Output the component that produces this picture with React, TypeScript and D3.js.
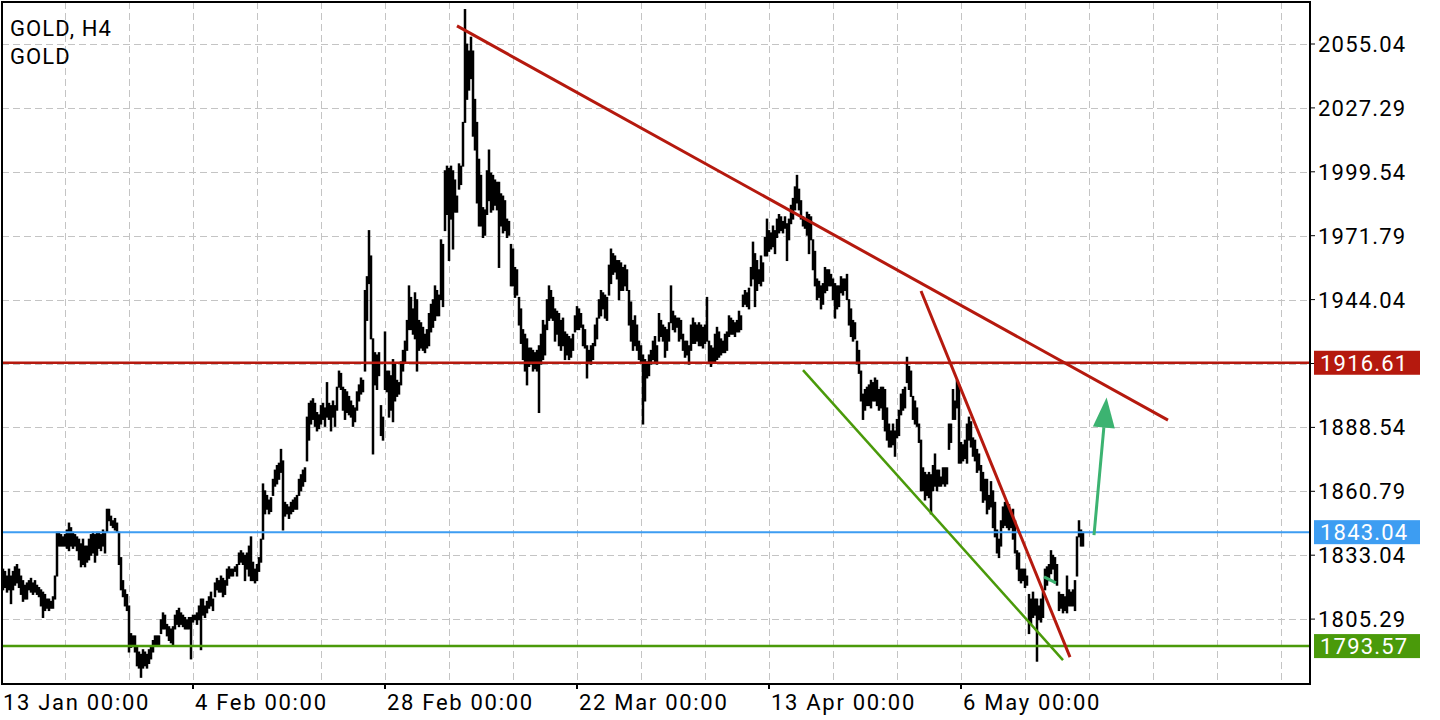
import React from 'react';
import * as d3 from 'd3';

const titleLines = ['GOLD, H4', 'GOLD'];

const highs = [
  1827,1827,1826,1824,1827,1824,1826,1828,1829,1827,
  1824,1822,1820,1821,1822,1823,1821,1822,1820,1819,
  1818,1817,1816,1814,1814,1813,1815,1824,1843,1843,
  1842,1841,1842,1844,1847,1845,1843,1842,1841,1840,
  1838,1840,1837,1837,1840,1842,1843,1842,1843,1843,
  1842,1844,1843,1853,1853,1850,1848,1849,1847,1843,
  1832,1822,1818,1816,1811,1799,1798,1798,1793,1791,
  1790,1792,1791,1790,1792,1793,1796,1798,1798,1798,
  1805,1808,1807,1803,1802,1801,1802,1807,1809,1810,
  1808,1807,1806,1805,1806,1806,1807,1807,1808,1811,
  1814,1814,1811,1813,1815,1817,1814,1821,1823,1822,
  1824,1823,1822,1827,1828,1827,1827,1828,1829,1834,
  1835,1834,1833,1834,1837,1841,1830,1827,1829,1832,
  1840,1864,1861,1859,1857,1858,1866,1870,1872,1873,
  1879,1874,1856,1855,1854,1856,1857,1858,1859,1866,
  1868,1870,1871,1893,1899,1900,1901,1899,1895,1894,
  1898,1899,1897,1908,1899,1898,1900,1898,1906,1913,
  1912,1906,1905,1904,1902,1900,1898,1897,1904,1907,
  1910,1909,1948,1954,1974,1963,1927,1921,1920,1921,
  1898,1893,1930,1913,1913,1911,1918,1916,1909,1908,
  1917,1922,1926,1935,1950,1945,1940,1947,1944,1935,
  1934,1932,1929,1931,1938,1942,1944,1950,1948,1946,
  1970,1968,2000,2002,2001,2002,2000,1996,1989,2003,
  2002,2021,2070,2055,2052,2058,2052,2031,2021,2005,
  1998,1984,1983,2000,2009,1999,1998,1996,1995,1995,
  1990,1989,1987,1979,1978,1968,1966,1958,1957,1945,
  1940,1931,1929,1927,1923,1923,1922,1921,1922,1924,
  1929,1935,1933,1944,1950,1948,1945,1940,1939,1938,
  1935,1936,1930,1929,1928,1927,1929,1937,1941,1940,
  1938,1933,1931,1924,1922,1924,1925,1933,1936,1944,
  1948,1947,1946,1945,1959,1966,1964,1963,1961,1961,
  1960,1958,1959,1957,1948,1943,1935,1937,1933,1926,
  1924,1920,1918,1917,1920,1922,1926,1928,1924,1938,
  1935,1933,1932,1931,1934,1950,1939,1937,1936,1936,
  1935,1929,1926,1926,1924,1933,1936,1934,1933,1934,
  1933,1932,1933,1945,1926,1924,1923,1929,1932,1930,
  1927,1926,1929,1930,1937,1936,1935,1934,1935,1939,
  1937,1946,1948,1947,1949,1958,1969,1964,1961,1957,
  1963,1960,1971,1979,1974,1973,1976,1974,1979,1981,
  1980,1978,1980,1977,1979,1985,1988,1993,1998,1992,
  1987,1980,1979,1982,1981,1980,1970,1965,1953,1952,
  1950,1951,1958,1957,1957,1955,1953,1951,1950,1950,
  1954,1953,1953,1955,1944,1940,1935,1934,1926,1922,
  1913,1903,1905,1906,1907,1909,1908,1910,1909,1905,
  1906,1906,1905,1897,1890,1887,1890,1887,1892,1896,
  1903,1905,1906,1919,1915,1913,1902,1900,1897,1890,
  1883,1871,1869,1868,1869,1868,1872,1877,1870,1870,
  1867,1871,1871,1871,1890,1890,1905,1900,1909,1907,
  1882,1881,1883,1890,1893,1891,1884,1883,1879,1877,
  1872,1869,1866,1866,1859,1865,1861,1856,1844,1840,
  1848,1854,1856,1855,1855,1851,1853,1848,1835,1834,
  1827,1827,1827,1824,1816,1814,1817,1814,1814,1811,
  1814,1817,1827,1828,1829,1835,1833,1832,1829,1817,
  1816,1816,1815,1824,1818,1817,1818,1822,1841,1848,
  1844,1843,
];

const lows = [
  1820,1818,1819,1817,1818,1812,1818,1820,1821,1819,
  1816,1813,1814,1814,1818,1817,1816,1817,1816,1815,
  1811,1806,1809,1810,1809,1810,1810,1814,1824,1837,
  1837,1837,1837,1836,1835,1837,1836,1837,1835,1831,
  1828,1829,1828,1830,1831,1833,1834,1830,1833,1836,
  1835,1837,1834,1843,1848,1846,1845,1844,1843,1829,
  1818,1815,1811,1809,1791,1793,1794,1791,1785,1784,
  1780,1784,1785,1784,1786,1788,1791,1794,1794,1794,
  1799,1801,1801,1798,1796,1795,1794,1801,1803,1802,
  1803,1802,1801,1801,1801,1788,1804,1805,1803,1805,
  1792,1807,1806,1808,1810,1811,1809,1815,1818,1817,
  1817,1815,1816,1820,1823,1824,1824,1826,1824,1829,
  1830,1829,1822,1827,1824,1822,1822,1821,1822,1826,
  1830,1840,1851,1853,1851,1852,1859,1863,1864,1866,
  1869,1844,1850,1851,1849,1851,1852,1853,1853,1859,
  1861,1863,1865,1874,1883,1890,1892,1889,1887,1888,
  1890,1892,1889,1893,1892,1887,1893,1889,1896,1906,
  1905,1896,1892,1895,1894,1893,1889,1891,1896,1900,
  1903,1904,1913,1935,1951,1927,1877,1907,1905,1911,
  1885,1883,1905,1904,1893,1896,1891,1900,1902,1903,
  1907,1913,1917,1922,1931,1931,1929,1927,1913,1922,
  1923,1922,1921,1923,1924,1930,1932,1935,1937,1937,
  1944,1941,1974,1981,1961,1979,1966,1982,1982,1992,
  1994,2002,2021,2031,2035,2040,2015,2009,1986,1976,
  1976,1971,1972,1981,1987,1982,1983,1985,1983,1958,
  1976,1973,1974,1971,1972,1950,1950,1945,1946,1933,
  1925,1918,1913,1907,1915,1916,1913,1914,1913,1895,
  1916,1918,1920,1931,1935,1936,1935,1926,1929,1924,
  1922,1924,1918,1920,1918,1919,1922,1930,1931,1931,
  1932,1924,1923,1910,1917,1916,1918,1924,1927,1936,
  1937,1940,1936,1935,1946,1951,1955,1956,1953,1944,
  1948,1948,1950,1948,1933,1926,1922,1924,1922,1918,
  1917,1890,1900,1910,1911,1916,1918,1917,1916,1926,
  1928,1926,1919,1922,1926,1934,1931,1930,1932,1926,
  1927,1922,1919,1920,1916,1922,1925,1925,1926,1924,
  1924,1923,1925,1926,1917,1915,1917,1917,1918,1919,
  1920,1921,1921,1922,1928,1929,1929,1928,1930,1930,
  1931,1941,1942,1941,1940,1950,1953,1941,1948,1951,
  1950,1952,1963,1963,1965,1966,1967,1964,1971,1973,
  1974,1973,1975,1961,1970,1977,1979,1983,1986,1983,
  1979,1976,1975,1972,1964,1970,1957,1950,1944,1945,
  1940,1942,1947,1948,1950,1950,1944,1936,1940,1941,
  1947,1946,1948,1944,1933,1928,1926,1927,1916,1912,
  1900,1892,1896,1898,1898,1897,1900,1900,1898,1896,
  1897,1892,1887,1883,1880,1880,1881,1876,1884,1885,
  1894,1896,1897,1908,1905,1902,1892,1890,1889,1882,
  1861,1861,1857,1859,1858,1851,1861,1863,1861,1863,
  1863,1864,1863,1864,1879,1882,1892,1892,1897,1873,
  1873,1874,1875,1873,1883,1880,1876,1874,1869,1870,
  1861,1856,1857,1851,1853,1854,1845,1841,1834,1832,
  1837,1845,1846,1845,1844,1845,1840,1834,1827,1822,
  1821,1822,1819,1820,1799,1803,1806,1807,1787,1805,
  1804,1806,1818,1820,1822,1825,1827,1821,1820,1809,
  1810,1808,1809,1808,1811,1811,1811,1809,1824,1841,
  1837,1837,
];

const yTickValues = [2055.04, 2027.29, 1999.54, 1971.79, 1944.04, 1916.29, 1888.54, 1860.79, 1833.04, 1805.29];
const yTickLabels = ['2055.04', '2027.29', '1999.54', '1971.79', '1944.04', '', '1888.54', '1860.79', '1833.04', '1805.29'];

const dateLabels = ['13 Jan 00:00', '4 Feb 00:00', '28 Feb 00:00', '22 Mar 00:00', '13 Apr 00:00', '6 May 00:00'];
const dateBars = [0, 96, 192, 288, 384, 480];

const levelValues = [1916.61, 1843.04, 1793.57];
const levelLabels = ['1916.61', '1843.04', '1793.57'];

// trendlines: [barIndex, price]
const resistanceLine = [[228, 2062.9], [583.5, 1891.7]];
const steepLine = [[460, 1947.8], [534.5, 1788.8]];
const supportLine = [[401, 1913.4], [531, 1787.5]];
const smallMark = [[521.5, 1823.6], [527.5, 1821.0]];
const arrowLine = [[546.5, 1841.8], [552.8, 1901.5]];

const RED = '#b5190e';
const BLUE = '#3d9df2';
const GREEN = '#4a9a0a';
const ARROW = '#3cb371';
const FONT = 'Roboto, "Noto Sans", sans-serif';

export default function App() {
  const W = 1440, H = 720;
  const left = 2, right = 1310, top = 2, bottom = 684;
  const x = d3.scaleLinear().domain([0, 654.5]).range([1, 1310]);
  const y = d3.scaleLinear().domain([1833.04, 2055.04]).range([555.2, 44]);

  const vGrid: number[] = [];
  for (let i = 32; x(i) < right - 2; i += 32) vGrid.push(i);

  const line = d3.line<number[]>().x(d => x(d[0])).y(d => y(d[1]));

  const a0 = arrowLine[0], a1 = arrowLine[1];
  const ax0 = x(a0[0]), ay0 = y(a0[1]), ax1 = x(a1[0]), ay1 = y(a1[1]);
  const ang = Math.atan2(ay1 - ay0, ax1 - ax0);
  const headLen = 30, headW = 11;
  const bx = ax1 - headLen * Math.cos(ang), by = ay1 - headLen * Math.sin(ang);
  const px = -Math.sin(ang) * headW, py = Math.cos(ang) * headW;
  const head = `M${ax1},${ay1}L${bx + px},${by + py}L${bx - px},${by - py}Z`;

  const levelColors = [RED, BLUE, GREEN];

  return (
    <svg width={W} height={H} style={{ position: 'absolute', left: 0, top: 0, background: '#fff' }}
      fontFamily={FONT}>
      <defs>
        <clipPath id="plot">
          <rect x={left} y={top} width={right - left} height={bottom - top} />
        </clipPath>
      </defs>
      <rect x={0} y={0} width={W} height={H} fill="#fff" />
      <g stroke="#c4c4c4" strokeWidth={1} strokeDasharray="7,4">
        {yTickValues.map((v, i) => (
          <line key={'h' + i} x1={left} x2={right} y1={Math.round(y(v)) + 0.5} y2={Math.round(y(v)) + 0.5} />
        ))}
        {vGrid.map(i => (
          <line key={'v' + i} x1={Math.round(x(i)) + 0.5} x2={Math.round(x(i)) + 0.5} y1={top} y2={bottom} />
        ))}
      </g>
      <g clipPath="url(#plot)" fill="#000">
        {highs.map((h, i) => {
          const yh = y(h), yl = y(lows[i]);
          return <rect key={i} x={x(i) - 1.25} y={yh - 0.5} width={2.5} height={Math.max(2, yl - yh + 1)} />;
        })}
      </g>
      <g clipPath="url(#plot)">
        {levelValues.map((v, i) => (
          <line key={'l' + i} x1={left} x2={right} y1={y(v)} y2={y(v)}
            stroke={levelColors[i]} strokeWidth={i === 1 ? 2 : 2.5} />
        ))}
        <path d={line(resistanceLine as any) || ''} stroke={RED} strokeWidth={3} fill="none" />
        <path d={line(steepLine as any) || ''} stroke={RED} strokeWidth={3} fill="none" />
        <path d={line(supportLine as any) || ''} stroke={GREEN} strokeWidth={2.5} fill="none" />
        <path d={line(smallMark as any) || ''} stroke={ARROW} strokeWidth={3} fill="none" />
        <line x1={ax0} y1={ay0} x2={bx} y2={by} stroke={ARROW} strokeWidth={3} />
        <path d={head} fill={ARROW} />
      </g>
      <rect x={left} y={top} width={right - left} height={bottom - top} fill="none" stroke="#000" strokeWidth={2} />
      <g fontSize={22} letterSpacing={1.2} fill="#000">
        {yTickValues.map((v, i) => (
          <g key={'yt' + i}>
            <line x1={right} x2={right + 5} y1={y(v)} y2={y(v)} stroke="#000" strokeWidth={1} />
            {yTickLabels[i] ? <text x={1318} y={y(v) + 8}>{yTickLabels[i]}</text> : null}
          </g>
        ))}
      </g>
      {levelValues.map((v, i) => (
        <g key={'lb' + i}>
          <rect x={1314} y={y(v) - 12} width={106} height={24} fill={levelColors[i]} />
          <text x={1320} y={y(v) + 8} fontSize={22} letterSpacing={1.2} fill="#fff">{levelLabels[i]}</text>
        </g>
      ))}
      <g fontSize={22} letterSpacing={1.7} fill="#000">
        {dateBars.map((b, i) => (
          <g key={'xt' + i}>
            {i > 0 ? <line x1={x(b)} x2={x(b)} y1={bottom} y2={bottom + 5} stroke="#000" strokeWidth={2} /> : null}
            <text x={x(b) + 2} y={710}>{dateLabels[i]}</text>
          </g>
        ))}
      </g>
      <g fontSize={22} letterSpacing={1.1} fill="#000">
        {titleLines.map((t, i) => (
          <text key={t + i} x={10} y={36 + i * 28}>{t}</text>
        ))}
      </g>
    </svg>
  );
}
